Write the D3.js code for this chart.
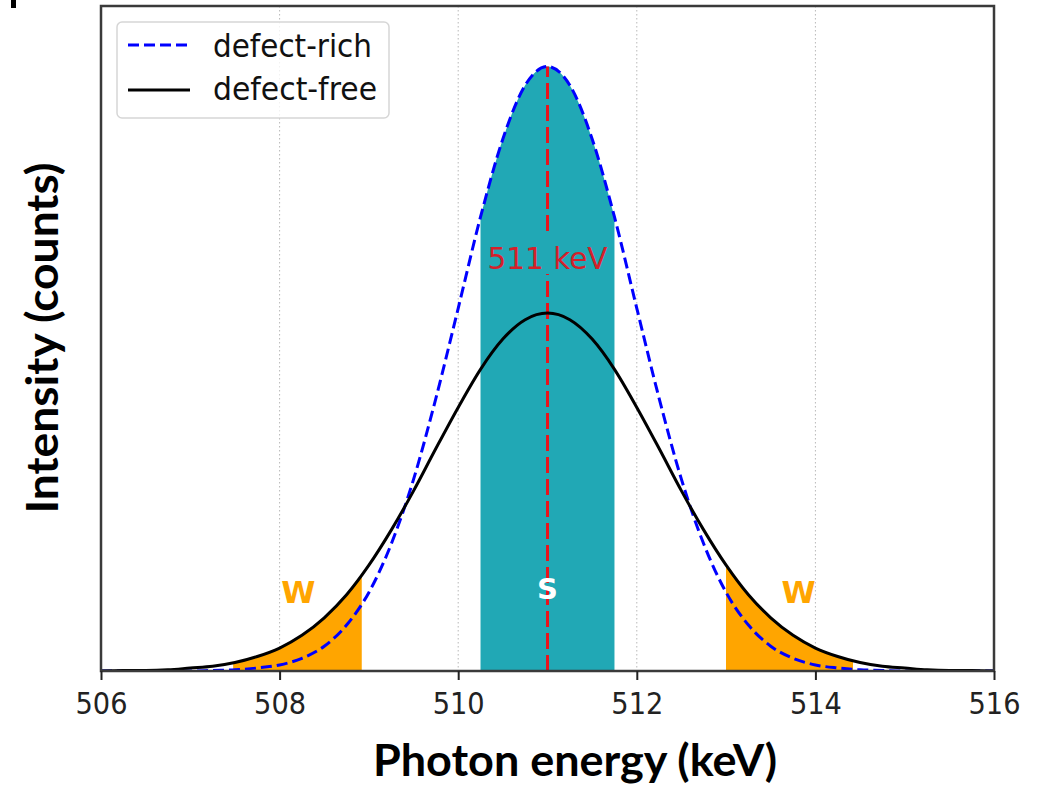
<!DOCTYPE html>
<html>
<head>
<meta charset="utf-8">
<script src="https://cdn.jsdelivr.net/npm/d3@7"></script>
<style>
  html, body { margin: 0; padding: 0; background: #fff; }
  svg { display: block; }
</style>
</head>
<body>
<svg id="chart" width="1051" height="785"></svg>
<script>
// ---- data ----
const energy = [506, 506.25, 506.5, 506.75, 507, 507.25, 507.5, 507.75, 508, 508.25, 508.5, 508.75,
  509, 509.25, 509.5, 509.75, 510, 510.25, 510.5, 510.75, 511, 511.25, 511.5, 511.75, 512, 512.25,
  512.5, 512.75, 513, 513.25, 513.5, 513.75, 514, 514.25, 514.5, 514.75, 515, 515.25, 515.5, 515.75, 516];
const defectRich = [0.000, 0.000, 0.000, 0.000, 0.000, 0.001, 0.002, 0.005, 0.010, 0.021, 0.041, 0.076,
  0.130, 0.210, 0.317, 0.451, 0.600, 0.751, 0.880, 0.969, 1.000, 0.969, 0.880, 0.751, 0.600, 0.451,
  0.317, 0.210, 0.130, 0.076, 0.041, 0.021, 0.010, 0.005, 0.002, 0.001, 0.000, 0.000, 0.000, 0.000, 0.000];
const defectFree = [0.000, 0.001, 0.001, 0.002, 0.005, 0.008, 0.014, 0.024, 0.038, 0.059, 0.088, 0.126,
  0.175, 0.233, 0.298, 0.368, 0.436, 0.499, 0.549, 0.581, 0.592, 0.581, 0.549, 0.499, 0.436, 0.368,
  0.298, 0.233, 0.175, 0.126, 0.088, 0.059, 0.038, 0.024, 0.014, 0.008, 0.005, 0.002, 0.001, 0.001, 0.000];
const xTicks = [506, 508, 510, 512, 514, 516];
const peakEnergy = 511;
const sWindow = [510.25, 511.75];
const wWindows = [[507.48, 508.92], [513.0, 514.42]];
const seriesNames = ["defect-rich", "defect-free"];

// ---- layout ----
const svg = d3.select("#chart");
const L = 101, R = 994, T = 6, B = 671;
const x = d3.scaleLinear().domain([506, 516]).range([L, R]);
const y = d3.scaleLinear().domain([0, 1.1]).range([B, T]);

const rich = energy.map((e, i) => ({ x: e, y: defectRich[i] }));
const free = energy.map((e, i) => ({ x: e, y: defectFree[i] }));

const line = d3.line().x(d => x(d.x)).y(d => y(d.y)).curve(d3.curveMonotoneX);
const area = d3.area().x(d => x(d.x)).y0(y(0)).y1(d => y(d.y)).curve(d3.curveMonotoneX);

const defs = svg.append("defs");
function clipFor(id, lo, hi) {
  defs.append("clipPath").attr("id", id).append("rect")
    .attr("x", x(lo)).attr("y", T).attr("width", x(hi) - x(lo)).attr("height", B - T);
  return "url(#" + id + ")";
}
defs.append("clipPath").attr("id", "plotclip").append("rect")
  .attr("x", L).attr("y", T).attr("width", R - L).attr("height", B - T);

// grid
svg.append("g").selectAll("line").data(xTicks.slice(1, -1)).join("line")
  .attr("x1", d => x(d)).attr("x2", d => x(d)).attr("y1", T).attr("y2", B)
  .attr("stroke", "#b8b8b8").attr("stroke-width", 1).attr("stroke-dasharray", "1.5,2.5");

// fills
svg.append("path").datum(rich).attr("d", area)
  .attr("fill", "#21a8b5").attr("clip-path", clipFor("sclip", sWindow[0], sWindow[1]));
wWindows.forEach((w, i) => {
  svg.append("path").datum(free).attr("d", area)
    .attr("fill", "#ffa500").attr("clip-path", clipFor("wclip" + i, w[0], w[1]));
});

// red 511 line
svg.append("line")
  .attr("x1", x(peakEnergy)).attr("x2", x(peakEnergy))
  .attr("y1", y(0)).attr("y2", y(d3.max(defectRich)))
  .attr("stroke", "#e8141c").attr("stroke-width", 3).attr("stroke-dasharray", "16,6");

// 511 keV label with teal box
svg.append("rect").attr("x", x(peakEnergy) - 64).attr("y", 237).attr("width", 128).attr("height", 37)
  .attr("fill", "#21a8b5");
svg.append("text").attr("x", x(peakEnergy)).attr("y", 269)
  .attr("text-anchor", "middle").attr("font-family", "DejaVu Sans").attr("font-size", 31)
  .attr("fill", "#d4202a").attr("textLength", 120).attr("lengthAdjust", "spacingAndGlyphs")
  .text("511 keV");

// S and W labels
svg.append("text").attr("x", x(peakEnergy)).attr("y", 599).attr("text-anchor", "middle")
  .attr("font-family", "DejaVu Sans").attr("font-weight", "bold").attr("font-size", 29)
  .attr("fill", "#ffffff").text("S");
[[508.2, "W"], [513.8, "W"]].forEach(([e, t]) => {
  svg.append("text").attr("x", x(e) + 1).attr("y", 603).attr("text-anchor", "middle")
    .attr("font-family", "DejaVu Sans").attr("font-weight", "bold").attr("font-size", 31)
    .attr("fill", "#ffa500").text(t);
});

// curves
const curves = svg.append("g").attr("clip-path", "url(#plotclip)");
curves.append("path").datum(rich).attr("d", line).attr("fill", "none")
  .attr("stroke", "#0000ff").attr("stroke-width", 3).attr("stroke-dasharray", "11,5");
curves.append("path").datum(free).attr("d", line).attr("fill", "none")
  .attr("stroke", "#000000").attr("stroke-width", 3);

// frame
svg.append("rect").attr("x", L).attr("y", T).attr("width", R - L).attr("height", B - T)
  .attr("fill", "none").attr("stroke", "#3a3a3a").attr("stroke-width", 2.5);

// x axis
const xAxis = d3.axisBottom(x).tickValues(xTicks).tickSize(9).tickPadding(8).tickFormat(d3.format("d"));
const gx = svg.append("g").attr("transform", `translate(0,${B})`).call(xAxis);
gx.select(".domain").remove();
gx.selectAll(".tick line").attr("stroke", "#222").attr("stroke-width", 2);
gx.selectAll(".tick text").attr("font-family", "DejaVu Sans").attr("font-size", 31)
  .attr("fill", "#222").attr("textLength", 52).attr("lengthAdjust", "spacingAndGlyphs")
  .attr("dy", null).attr("y", 43);

// axis titles
svg.append("text").attr("x", 575).attr("y", 776).attr("text-anchor", "middle")
  .attr("font-family", "Lato").attr("font-weight", "bold").attr("font-size", 43)
  .attr("textLength", 404).attr("lengthAdjust", "spacingAndGlyphs").attr("fill", "#000")
  .text("Photon energy (keV)");
svg.append("text").attr("transform", "translate(58,338) rotate(-90)").attr("text-anchor", "middle")
  .attr("font-family", "Lato").attr("font-weight", "bold").attr("font-size", 44)
  .attr("textLength", 351).attr("lengthAdjust", "spacingAndGlyphs").attr("fill", "#000")
  .text("Intensity (counts)");

// legend
const lg = svg.append("g");
lg.append("rect").attr("x", 117).attr("y", 22).attr("width", 272).attr("height", 96).attr("rx", 5)
  .attr("fill", "#fff").attr("fill-opacity", 0.8).attr("stroke", "#d6d6d6").attr("stroke-width", 1.5);
const legendItems = [
  { name: seriesNames[0], color: "#0000ff", dash: "11,5", yy: 45, ty: 57, tl: 159 },
  { name: seriesNames[1], color: "#000000", dash: null, yy: 90, ty: 100, tl: 164 }
];
legendItems.forEach(it => {
  lg.append("line").attr("x1", 128).attr("x2", 190).attr("y1", it.yy).attr("y2", it.yy)
    .attr("stroke", it.color).attr("stroke-width", 3).attr("stroke-dasharray", it.dash);
  lg.append("text").attr("x", 213).attr("y", it.ty).attr("font-family", "DejaVu Sans")
    .attr("font-size", 32).attr("fill", "#111").attr("textLength", it.tl)
    .attr("lengthAdjust", "spacingAndGlyphs").text(it.name);
});

// cut-off mark at top-left corner
svg.append("rect").attr("x", 11).attr("y", 0).attr("width", 5).attr("height", 8).attr("fill", "#000");
</script>
</body>
</html>
